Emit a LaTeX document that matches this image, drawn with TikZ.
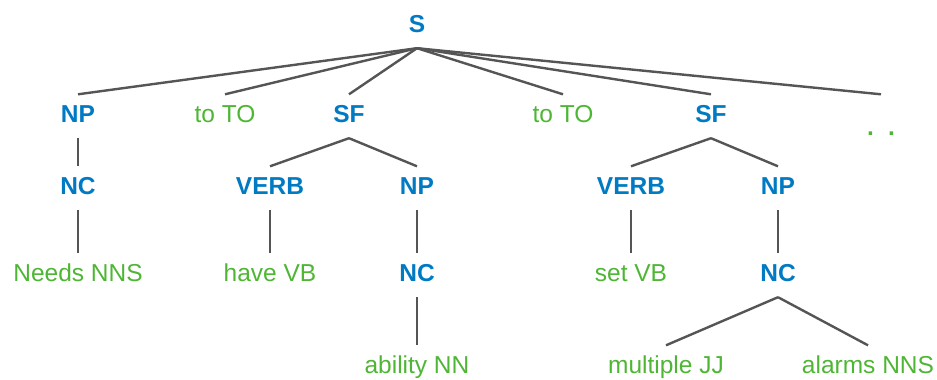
\documentclass[tikz,border=0pt]{standalone}
\usepackage{fontspec}
\setmainfont{Liberation Sans}
\definecolor{treeblue}{RGB}{0,122,194}
\definecolor{treegreen}{RGB}{78,182,52}
\definecolor{treegray}{RGB}{85,85,85}

\begin{document}
\begin{tikzpicture}[x=1pt,y=-1pt]

\tikzset{phrase/.style = {anchor=base, inner sep=0pt, text height=27.5pt, text depth=16pt, font=\fontsize{24.5}{28}\selectfont\bfseries, text=treeblue}}
\tikzset{word/.style = {anchor=base, inner sep=0pt, text height=27.5pt, text depth=16pt, font=\fontsize{24.5}{28}\selectfont, text=treegreen}}
\tikzset{edge/.style = {draw=treegray, line width=2.4pt}}
\useasboundingbox (0,0) rectangle (937,380);
%verticies
\node[phrase] (1) at (417,32) {S};
\node[phrase] (2) at (78,122) {NP};
\node[word] (3) at (225,122) {to TO};
\node[phrase] (4) at (349,122) {SF};
\node[word] (5) at (563,122) {to TO};
\node[phrase] (6) at (711,122) {SF};
\node[word] (7) at (881,122) {\bfseries\raisebox{-13pt}{.\hspace{14pt}.}};
\node[phrase] (8) at (78,194) {NC};
\node[phrase] (9) at (270,194) {VERB};
\node[phrase] (10) at (417,194) {NP};
\node[phrase] (11) at (631,194) {VERB};
\node[phrase] (12) at (778,194) {NP};
\node[word] (13) at (78,281) {Needs NNS};
\node[word] (14) at (270,281) {have VB};
\node[phrase] (15) at (417,281) {NC};
\node[word] (16) at (631,281) {set VB};
\node[phrase] (17) at (778,281) {NC};
\node[word] (18) at (417,373) {ability NN};
\node[word] (19) at (666,373) {multiple JJ};
\node[word] (20) at (868,373) {alarms NNS};
%edges
\draw [edge] (1.south) -- (2.north);
\draw [edge] (1.south) -- (3.north);
\draw [edge] (1.south) -- (4.north);
\draw [edge] (1.south) -- (5.north);
\draw [edge] (1.south) -- (6.north);
\draw [edge] (1.south) -- (7.north);
\draw [edge] (2.south) -- (8.north);
\draw [edge] (4.south) -- (9.north);
\draw [edge] (4.south) -- (10.north);
\draw [edge] (6.south) -- (11.north);
\draw [edge] (6.south) -- (12.north);
\draw [edge] (8.south) -- (13.north);
\draw [edge] (9.south) -- (14.north);
\draw [edge] (10.south) -- (15.north);
\draw [edge] (11.south) -- (16.north);
\draw [edge] (12.south) -- (17.north);
\draw [edge] (15.south) -- (18.north);
\draw [edge] (17.south) -- (19.north);
\draw [edge] (17.south) -- (20.north);

\end{tikzpicture}
\end{document}
